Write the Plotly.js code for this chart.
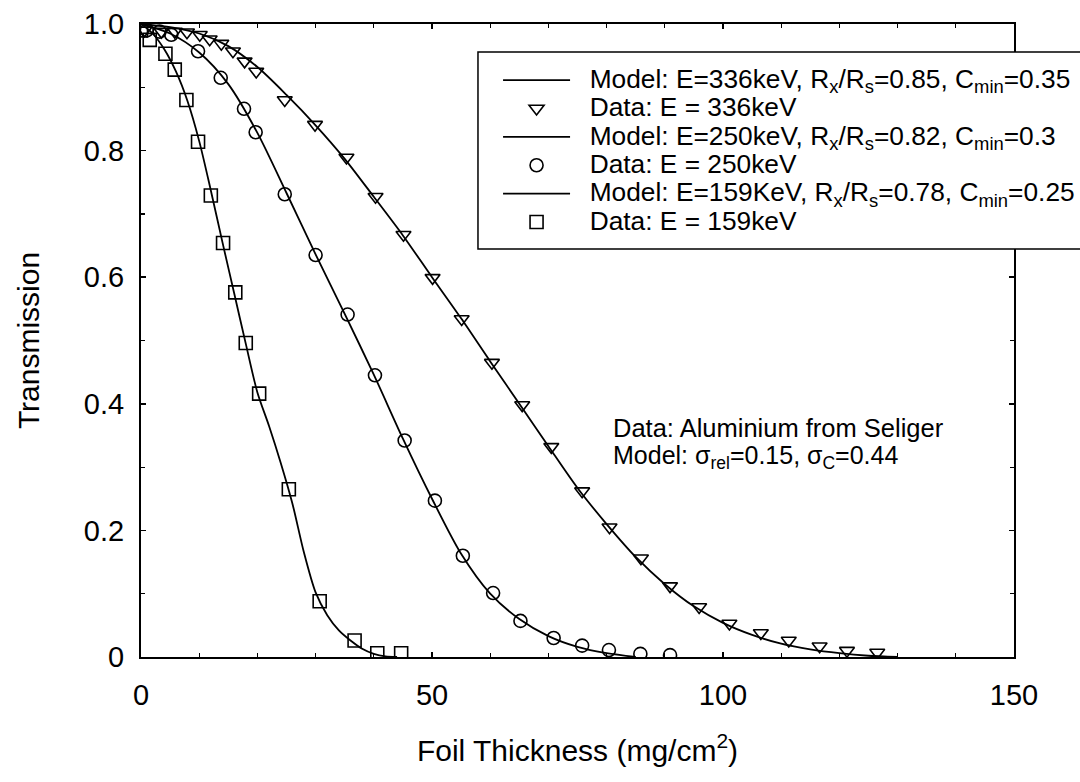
<!DOCTYPE html>
<html>
<head>
<meta charset="utf-8">
<script src="https://cdn.plot.ly/plotly-3.0.1.min.js"></script>
<style>html,body{margin:0;padding:0;background:#fff;}#chart{width:1080px;height:782px;}</style>
</head>
<body>
<div id="chart"></div>
<script>
// ---- data ----
// 336 keV
const data336X = [0.6, 3.5, 5.8, 7.9, 10.1, 11.8, 13.8, 15.8, 17.8, 19.8, 24.7, 29.9, 35.3, 40.3, 45.1, 50.1, 55.1, 60.3, 65.5, 70.5, 75.8, 80.5, 85.9, 90.9, 95.9, 101.1, 106.5, 111.3, 116.6, 121.3, 126.5];
const data336Y = [0.99, 0.988, 0.988, 0.987, 0.983, 0.976, 0.969, 0.957, 0.941, 0.925, 0.880, 0.841, 0.789, 0.727, 0.667, 0.599, 0.534, 0.465, 0.398, 0.332, 0.262, 0.205, 0.156, 0.112, 0.079, 0.053, 0.038, 0.026, 0.017, 0.010, 0.007];
const model336X = [0, 5, 10, 15, 20, 25, 30, 35, 40, 45, 50, 55, 60, 65, 70, 75, 80, 85, 90, 95, 100, 105, 110, 115, 120, 125, 130];
const model336Y = [1.0, 0.995, 0.985, 0.965, 0.932, 0.888, 0.840, 0.787, 0.727, 0.666, 0.600, 0.535, 0.467, 0.400, 0.333, 0.267, 0.210, 0.158, 0.115, 0.080, 0.054, 0.035, 0.021, 0.012, 0.006, 0.002, 0.0];
// 250 keV
const data250X = [1.0, 3.2, 5.2, 9.8, 13.7, 17.7, 19.7, 24.7, 30.0, 35.5, 40.2, 45.3, 50.5, 55.3, 60.5, 65.2, 70.9, 75.8, 80.4, 85.8, 90.9];
const data250Y = [0.99, 0.988, 0.983, 0.957, 0.915, 0.866, 0.829, 0.731, 0.635, 0.541, 0.445, 0.342, 0.247, 0.160, 0.101, 0.057, 0.030, 0.018, 0.011, 0.005, 0.003];
const model250X = [0, 5, 10, 15, 20, 25, 30, 35, 40, 45, 50, 55, 60, 65, 70, 75, 80, 85];
const model250Y = [1.0, 0.985, 0.955, 0.905, 0.828, 0.733, 0.636, 0.542, 0.446, 0.345, 0.250, 0.163, 0.100, 0.060, 0.033, 0.016, 0.006, 0.0];
// 159 keV
const data159X = [0.0, 1.5, 4.2, 5.8, 7.8, 9.8, 12.0, 14.1, 16.2, 18.0, 20.3, 25.4, 30.7, 36.7, 40.6, 44.7];
const data159Y = [0.99, 0.975, 0.953, 0.928, 0.880, 0.814, 0.729, 0.654, 0.576, 0.496, 0.416, 0.265, 0.088, 0.026, 0.006, 0.006];
const model159X = [0, 2, 4, 6, 8, 10, 12, 14, 16, 18, 20, 22, 24, 26, 28, 30, 32, 34, 36, 38, 40, 42, 44];
const model159Y = [1.0, 0.985, 0.96, 0.925, 0.878, 0.815, 0.737, 0.655, 0.575, 0.495, 0.418, 0.365, 0.307, 0.243, 0.165, 0.102, 0.066, 0.042, 0.026, 0.013, 0.005, 0.001, 0.0];

const legendNames = [
  'Model: E=336keV, R<sub>x</sub>/R<sub>s</sub>=0.85, C<sub>min</sub>=0.35',
  'Data: E = 336keV',
  'Model: E=250keV, R<sub>x</sub>/R<sub>s</sub>=0.82, C<sub>min</sub>=0.3',
  'Data: E = 250keV',
  'Model: E=159KeV, R<sub>x</sub>/R<sub>s</sub>=0.78, C<sub>min</sub>=0.25',
  'Data: E = 159keV'
];
const xTickVals = [0, 50, 100, 150];
const xTickText = ['0', '50', '100', '150'];
const yTickVals = [0, 0.2, 0.4, 0.6, 0.8, 1.0];
const yTickText = ['0', '0.2', '0.4', '0.6', '0.8', '1.0'];
const noteLines = ['Data: Aluminium from Seliger', 'Model: σ<sub>rel</sub>=0.15, σ<sub>C</sub>=0.44'];

// ---- chart ----
const FONT = 'Liberation Sans, Arial, sans-serif';
const LEG_TEXT = 26.3;
const lineStyle = {color: '#000', width: 1.8, shape: 'spline', smoothing: 0.8};
function markerStyle(sym) { return {symbol: sym, size: 13, color: '#000', line: {color: '#000', width: 1.6}}; }
function big(t) { return '<span style="font-size:' + LEG_TEXT + 'px">&nbsp;&nbsp;' + t + '</span>'; }

const traces = [
  {x: model336X, y: model336Y, mode: 'lines', line: lineStyle, name: big(legendNames[0])},
  {x: data336X, y: data336Y, mode: 'markers', marker: markerStyle('triangle-down-open'), name: big(legendNames[1])},
  {x: model250X, y: model250Y, mode: 'lines', line: lineStyle, name: big(legendNames[2])},
  {x: data250X, y: data250Y, mode: 'markers', marker: markerStyle('circle-open'), name: big(legendNames[3])},
  {x: model159X, y: model159Y, mode: 'lines', line: lineStyle, name: big(legendNames[4])},
  {x: data159X, y: data159Y, mode: 'markers', marker: markerStyle('square-open'), name: big(legendNames[5])}
];

const axisCommon = {
  showgrid: false, zeroline: false, showline: true, linecolor: '#000', linewidth: 2,
  mirror: 'ticks', ticks: 'inside', ticklen: 5, tickwidth: 1.5, tickcolor: '#000',
  tickfont: {family: FONT, size: 29, color: '#000'}
};

const layout = {
  width: 1080, height: 782,
  paper_bgcolor: '#fff', plot_bgcolor: '#fff',
  margin: {l: 141, r: 66, t: 24, b: 125, autoexpand: false},
  font: {family: FONT, color: '#000'},
  showlegend: true,
  legend: {
    x: 0.409, y: 0.9415, xanchor: 'left', yanchor: 'top',
    bgcolor: 'rgba(0,0,0,0)', borderwidth: 0,
    font: {family: FONT, size: 19.5, color: '#000'},
    itemwidth: 67, tracegroupgap: 0
  },
  shapes: [{
    type: 'rect', xref: 'paper', yref: 'paper', layer: 'above',
    x0: 0.386, x1: 1.12, y0: 0.6445, y1: 0.9558,
    fillcolor: '#fff', line: {color: '#000', width: 1.5}
  }],
  xaxis: Object.assign({}, axisCommon, {
    range: [0, 150], tickvals: xTickVals, ticktext: xTickText,
    minor: {dtick: 10, ticks: 'inside', ticklen: 4, tickcolor: '#000', tickwidth: 1.2},
    ticklabelstandoff: 11,
    title: {text: 'Foil Thickness (mg/cm<sup>2</sup>)', font: {family: FONT, size: 30, color: '#000'}, standoff: 30}
  }),
  yaxis: Object.assign({}, axisCommon, {
    range: [0, 1.0], tickvals: yTickVals, ticktext: yTickText,
    minor: {dtick: 0.1, ticks: 'inside', ticklen: 4, tickcolor: '#000', tickwidth: 1.2},
    ticklabelstandoff: 9,
    title: {text: 'Transmission', font: {family: FONT, size: 30, color: '#000'}, standoff: 35}
  }),
  annotations: [
    {xref: 'paper', yref: 'paper', x: 0.538, y: 0.361, xanchor: 'left', yanchor: 'middle',
     text: noteLines[0], showarrow: false, align: 'left', font: {family: FONT, size: 25.5, color: '#000'}},
    {xref: 'paper', yref: 'paper', x: 0.538, y: 0.316, xanchor: 'left', yanchor: 'middle',
     text: noteLines[1], showarrow: false, align: 'left', font: {family: FONT, size: 25, color: '#000'}}
  ]
};

Plotly.newPlot('chart', traces, layout, {displayModeBar: false, staticPlot: true});
</script>
</body>
</html>
